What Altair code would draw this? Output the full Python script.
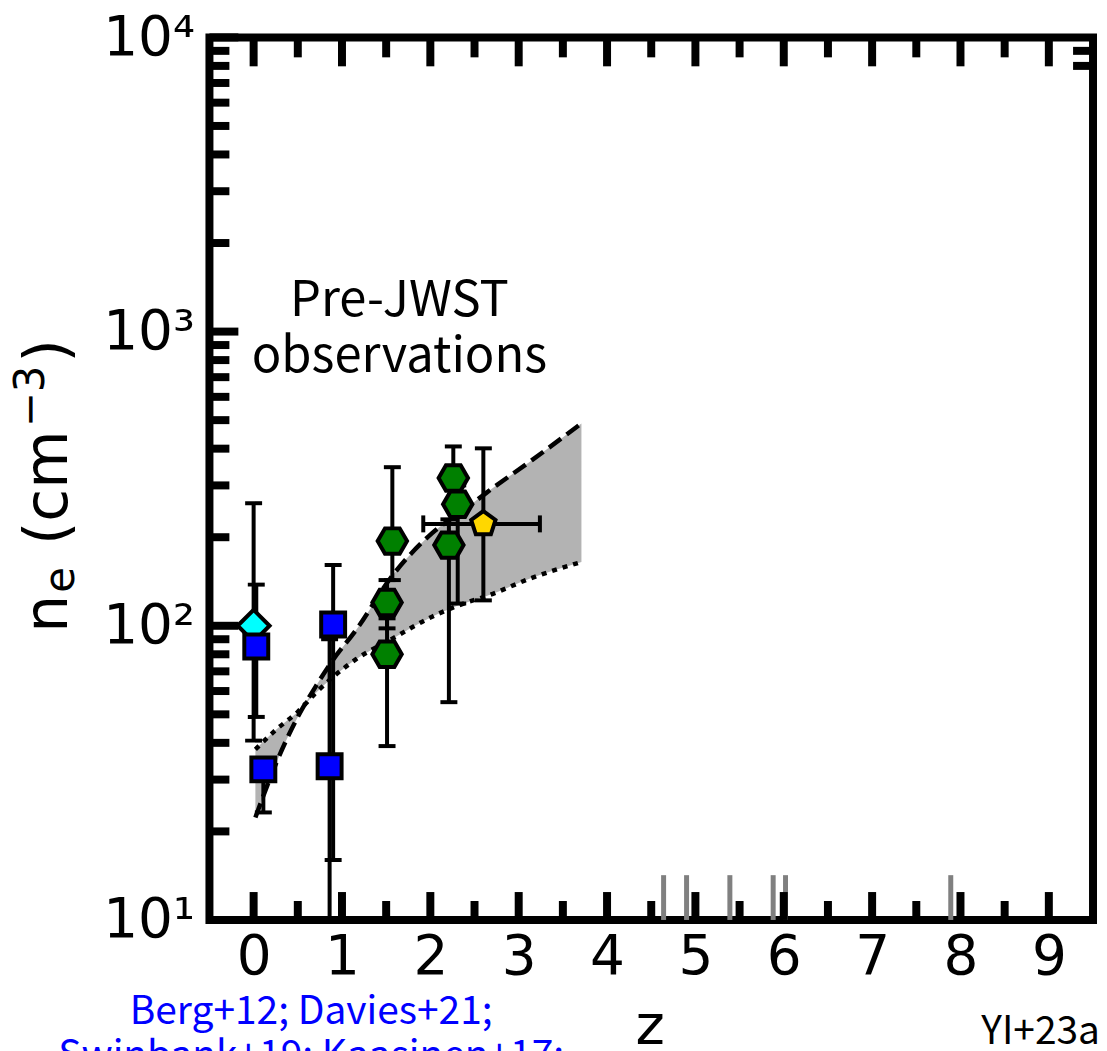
import altair as alt
import pandas as pd

# ---------------- data ----------------
# blue squares (low-z literature samples)
sq_z = [0.03, 0.11, 0.90, 0.86]
sq_ne = [85, 32.5, 101, 33.3]
sq_lo = [49, 23.2, 16, 5]
sq_hi = [138, 32.5, 161, 90]

# cyan diamond
cy_z = [0.0]
cy_ne = [100]
cy_lo = [40.7]
cy_hi = [261]

# green hexagons
hx_z = [1.57, 1.51, 1.51, 2.26, 2.31, 2.21]
hx_ne = [194, 120, 80, 318, 259, 188]
hx_lo = [143, 98, 39, 260, 119, 55]
hx_hi = [346, 143, 106, 407, 300, 230]

# yellow pentagon
pt_z = [2.60]
pt_ne = [222]
pt_lo = [122]
pt_hi = [401]
pt_zlo = [1.92]
pt_zhi = [3.24]

# shaded band: upper (dashed) and lower (dotted) bounds
band_z = [0.02, 0.26, 0.50, 0.70, 0.90, 1.16, 1.56, 2.02, 2.40, 2.63, 3.15, 3.71]
band_dash = [22.3, 34.4, 49, 62, 76.7, 96.8, 146.6, 206.5, 250, 282.5, 365.6, 487.5]
band_dot = [38.0, 44.5, 51.0, 59, 67, 77, 90, 107.4, 119.7, 126, 145.5, 164.8]

# grey markers at the bottom (JWST redshifts)
jw_z = [4.64, 4.90, 5.39, 5.88, 6.02, 7.89]
jw_lo = [10] * 6
jw_hi = [14.2] * 6

# axis ticks
x_major = list(range(10))
x_minor = [0.5 + i for i in range(9)]
y_major = [10, 100, 1000, 10000]
y_minor = [m * 10 ** k for k in (1, 2, 3) for m in range(2, 10)]
y_right = [8000, 9000]
ytick_labels = ["10¹", "10²", "10³", "10⁴"]

pre_text = ["Pre-JWST", "observations"]
pre_z = [1.65, 1.65]
pre_ne = [1274, 817]
ref_lines = ["Berg+12; Davies+21;", "Swinbank+19; Kaasinen+17;"]

# y-axis title pieces: text, font size, baseline x (px), start y (px)
yt_text = ["n", "e", "(cm", "−3", ")"]
yt_size = [60, 42, 60, 42, 60]
yt_x = [-143, -136, -143, -166, -143]
yt_y = [597, 557, 509, 391, 326]

# ---------------- chart ----------------
W, H = 886, 885
xs = alt.Scale(domain=[-0.5, 9.5], nice=False, zero=False)
ys = alt.Scale(type="log", domain=[10, 10000], nice=False)

label_expr = "[" + ",".join("'%s'" % s for s in ytick_labels) + "][round(log(datum.value)/LN10) - 1]"
xaxis = alt.Axis(values=x_major, ticks=False, tickSize=0, domain=False, grid=False,
                 labelFont="DejaVu Sans", labelFontSize=55, labelColor="black",
                 labelPadding=11, labelFlush=False, title=None)
yaxis = alt.Axis(values=y_major, labelExpr=label_expr, ticks=False, tickSize=0, domain=False,
                 grid=False, labelFont="DejaVu Sans", labelFontSize=55, labelColor="black",
                 labelPadding=15, labelFlush=False, title=None)


def X(f="z"):
    return alt.X(f"{f}:Q", scale=xs, axis=xaxis)


def Y(f="ne"):
    return alt.Y(f"{f}:Q", scale=ys, axis=yaxis)


band = pd.DataFrame({"z": band_z, "hi": band_dash, "lo": band_dot})
area = alt.Chart(band).mark_area(color="#b3b3b3", opacity=1, interpolate="monotone").encode(
    x=X(), y=Y("hi"), y2="lo:Q")
dash = alt.Chart(band).mark_line(color="black", strokeWidth=4.5, strokeDash=[15, 7],
                                 interpolate="monotone").encode(x=X(), y=Y("hi"))
dot = alt.Chart(band).mark_line(color="black", strokeWidth=4.5, strokeDash=[5, 6],
                                interpolate="monotone").encode(x=X(), y=Y("lo"))

jw = pd.DataFrame({"z": jw_z, "lo": jw_lo, "hi": jw_hi})
jwl = alt.Chart(jw).mark_rule(color="#808080", strokeWidth=5).encode(x=X(), y=Y("lo"), y2="hi:Q")

# error bars
err = pd.DataFrame({
    "z": sq_z + cy_z + hx_z + pt_z,
    "lo": sq_lo + cy_lo + hx_lo + pt_lo,
    "hi": sq_hi + cy_hi + hx_hi + pt_hi,
})
caps = pd.DataFrame({"z": list(err["z"]) * 2, "ne": list(err["lo"]) + list(err["hi"])})
ebar = alt.Chart(err).mark_rule(color="black", strokeWidth=4, clip=True).encode(
    x=X(), y=Y("lo"), y2="hi:Q")
ecap = alt.Chart(caps).mark_tick(color="black", orient="horizontal", size=17, thickness=4,
                                 clip=True, opacity=1).encode(x=X(), y=Y())
xerr = pd.DataFrame({"zlo": pt_zlo, "zhi": pt_zhi, "ne": pt_ne})
xbar = alt.Chart(xerr).mark_rule(color="black", strokeWidth=4).encode(
    x=X("zlo"), x2="zhi:Q", y=Y())
xcapd = pd.DataFrame({"z": pt_zlo + pt_zhi, "ne": pt_ne * 2})
xcap = alt.Chart(xcapd).mark_tick(color="black", orient="vertical", size=17, thickness=4,
                                  opacity=1).encode(x=X(), y=Y())

hexagon = "M-1,0L-0.5,-0.866L0.5,-0.866L1,0L0.5,0.866L-0.5,0.866Z"
pentagon = "M0,-1L0.951,-0.309L0.588,0.809L-0.588,0.809L-0.951,-0.309Z"


def pts(zv, nv, shape, size, fill):
    return alt.Chart(pd.DataFrame({"z": zv, "ne": nv})).mark_point(
        shape=shape, size=size, filled=True, fill=fill, stroke="black", strokeWidth=4,
        opacity=1, fillOpacity=1, strokeOpacity=1).encode(x=X(), y=Y())


cyan = pts(cy_z, cy_ne, "diamond", 1024, "#00ffff")
blue = pts(sq_z, sq_ne, "square", 576, "#0000ff")
green = pts(hx_z, hx_ne, hexagon, 870, "#008000")
yellow = pts(pt_z, pt_ne, pentagon, 660, "#ffd700")


# inward ticks on all sides
def xt(vals, y0, y1):
    return alt.Chart(pd.DataFrame({"z": vals})).mark_rule(color="black", strokeWidth=8).encode(
        x=X(), y=alt.value(y0), y2=alt.value(y1))


def yt(vals, x0, x1):
    return alt.Chart(pd.DataFrame({"ne": vals})).mark_rule(color="black", strokeWidth=8).encode(
        y=Y(), x=alt.value(x0), x2=alt.value(x1))


ticks = [xt(x_major, 0, 29), xt(x_minor, 0, 20), xt(x_major, H, H - 28), xt(x_minor, H, H - 19),
         yt(y_major, 0, 29), yt(y_minor, 0, 20), yt(y_right, W, W - 20)]

pre = alt.Chart(pd.DataFrame({"z": pre_z, "ne": pre_ne, "t": pre_text})).mark_text(
    font="Noto Sans CJK JP", fontSize=49, color="black", baseline="middle", align="center").encode(
    x=X(), y=Y(), text="t:N")

one = pd.DataFrame({"t": ["\n".join(ref_lines)]})
reftxt = alt.Chart(one).mark_text(font="Noto Sans CJK JP", fontSize=39, color="#0000ff",
                                  align="center", baseline="alphabetic", lineBreak="\n",
                                  lineHeight=44).encode(
    x=alt.value(102), y=alt.value(989), text="t:N")
yi = alt.Chart(pd.DataFrame({"t": ["YI+23a"]})).mark_text(
    font="Noto Sans CJK JP", fontSize=39, color="black", align="right", baseline="alphabetic").encode(
    x=alt.value(893), y=alt.value(1009), text="t:N")
ztitle = alt.Chart(pd.DataFrame({"t": ["z"]})).mark_text(
    font="DejaVu Sans", fontSize=56, color="black", align="center", baseline="alphabetic").encode(
    x=alt.value(442), y=alt.value(1009), text="t:N")

ytd = pd.DataFrame({"t": yt_text, "s": yt_size, "px": yt_x, "py": yt_y})
ytitle = [
    alt.Chart(ytd.iloc[[i]]).mark_text(
        font="DejaVu Sans", fontSize=yt_size[i], color="black", align="left",
        baseline="alphabetic", angle=270).encode(
        x=alt.value(yt_x[i]), y=alt.value(yt_y[i]), text="t:N")
    for i in range(len(yt_text))
]

chart = alt.layer(
    area, jwl, *ticks, dash, dot, ebar, ecap, xbar, xcap, cyan, blue, green, yellow,
    pre, reftxt, yi, ztitle, *ytitle
).properties(
    width=W, height=H,
    autosize=alt.AutoSizeParams(type="none"),
    padding={"left": 202, "top": 28, "right": 6, "bottom": 160},
).configure_view(stroke="black", strokeWidth=8)

chart.save("out.html", embed_options={"renderer": "svg", "actions": False})
